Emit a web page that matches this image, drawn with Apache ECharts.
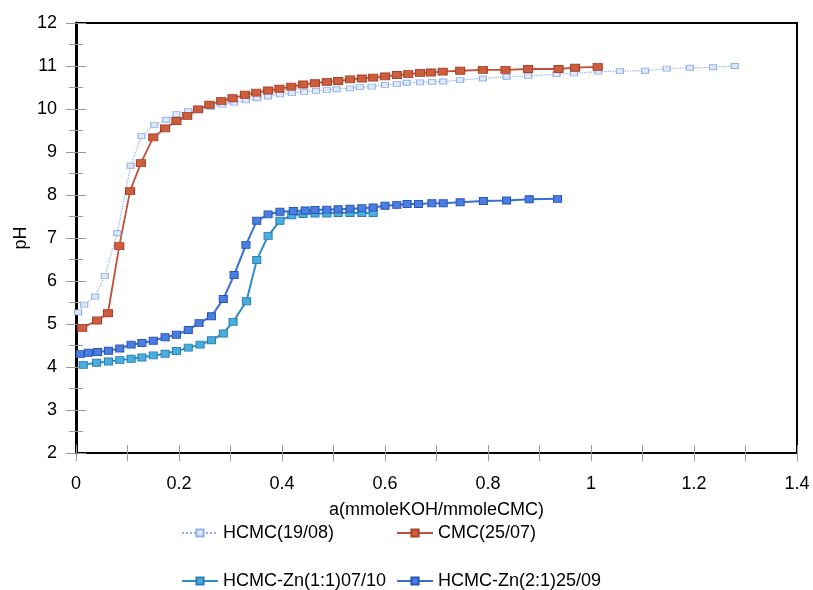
<!DOCTYPE html>
<html>
<head>
<meta charset="utf-8">
<script src="https://cdn.jsdelivr.net/npm/echarts@6/dist/echarts.min.js"></script>
<style>
  html, body { margin: 0; padding: 0; background: #fff; }
  #chart { width: 813px; height: 590px; }
</style>
</head>
<body>
<div id="chart"></div>
<script>
// Titration curves: pH against a (mmole KOH / mmole CMC)
const seriesNames = ['HCMC(19/08)', 'CMC(25/07)', 'HCMC-Zn(1:1)07/10', 'HCMC-Zn(2:1)25/09'];

const hcmcX = [0.004, 0.016, 0.037, 0.056, 0.080, 0.106, 0.127, 0.152, 0.175, 0.195, 0.218, 0.240, 0.262, 0.284,
  0.307, 0.330, 0.352, 0.373, 0.396, 0.419, 0.443, 0.466, 0.487, 0.506, 0.532, 0.551, 0.574, 0.600, 0.623, 0.642,
  0.668, 0.691, 0.713, 0.746, 0.790, 0.836, 0.878, 0.933, 0.967, 1.014, 1.056, 1.105, 1.147, 1.192, 1.237, 1.279];
const hcmcPH = [5.27, 5.45, 5.64, 6.12, 7.11, 8.68, 9.37, 9.63, 9.75, 9.88, 9.95, 10.01, 10.05, 10.10,
  10.15, 10.20, 10.25, 10.29, 10.34, 10.37, 10.40, 10.42, 10.44, 10.46, 10.48, 10.51, 10.52, 10.56, 10.58, 10.61,
  10.62, 10.63, 10.64, 10.67, 10.71, 10.75, 10.77, 10.81, 10.83, 10.87, 10.88, 10.89, 10.94, 10.96, 10.97, 11.00];

const cmcX = [0.012, 0.041, 0.062, 0.084, 0.105, 0.126, 0.150, 0.173, 0.195, 0.216, 0.237, 0.259, 0.282, 0.304,
  0.328, 0.350, 0.373, 0.395, 0.418, 0.441, 0.464, 0.487, 0.509, 0.532, 0.555, 0.577, 0.600, 0.623, 0.645, 0.668,
  0.689, 0.712, 0.746, 0.790, 0.834, 0.878, 0.937, 0.969, 1.013];
const cmcPH = [4.91, 5.08, 5.25, 6.81, 8.09, 8.74, 9.34, 9.55, 9.72, 9.84, 9.99, 10.10, 10.19, 10.25,
  10.33, 10.38, 10.43, 10.47, 10.52, 10.57, 10.60, 10.63, 10.65, 10.69, 10.71, 10.73, 10.76, 10.79, 10.81, 10.84,
  10.85, 10.87, 10.89, 10.91, 10.91, 10.93, 10.93, 10.96, 10.98];

const zn11X = [0.014, 0.040, 0.063, 0.085, 0.107, 0.128, 0.150, 0.173, 0.195, 0.218, 0.241, 0.263, 0.286, 0.305,
  0.331, 0.351, 0.373, 0.396, 0.419, 0.441, 0.464, 0.487, 0.509, 0.532, 0.555, 0.577];
const zn11PH = [4.05, 4.10, 4.13, 4.16, 4.19, 4.22, 4.27, 4.31, 4.37, 4.45, 4.52, 4.62, 4.78, 5.05,
  5.53, 6.49, 7.05, 7.40, 7.53, 7.56, 7.57, 7.57, 7.58, 7.58, 7.58, 7.58];

const zn21X = [0.008, 0.024, 0.042, 0.063, 0.085, 0.107, 0.128, 0.150, 0.173, 0.195, 0.218, 0.239, 0.263, 0.286,
  0.307, 0.330, 0.351, 0.373, 0.396, 0.422, 0.445, 0.464, 0.487, 0.509, 0.532, 0.555, 0.577, 0.600, 0.623, 0.643,
  0.665, 0.691, 0.713, 0.746, 0.791, 0.836, 0.880, 0.935];
const zn21PH = [4.30, 4.33, 4.35, 4.38, 4.43, 4.52, 4.56, 4.61, 4.69, 4.75, 4.86, 5.02, 5.18, 5.58,
  6.14, 6.84, 7.40, 7.55, 7.61, 7.63, 7.64, 7.65, 7.66, 7.67, 7.68, 7.69, 7.71, 7.75, 7.77, 7.79,
  7.79, 7.81, 7.81, 7.83, 7.86, 7.87, 7.90, 7.91];

const xTicks = { min: 0, max: 1.4, interval: 0.2 };
const yTicks = { min: 2, max: 12, interval: 1 };

const pairs = (xs, ys) => xs.map((x, i) => [x, ys[i]]);
const FONT = '"Liberation Sans", Arial, sans-serif';
const tickGray = '#9a9a9a';

const chart = echarts.init(document.getElementById('chart'), null, { renderer: 'canvas' });

// Ticks cross each axis: one axis draws them outside, a twin axis draws them inside.
// The twin (label-free) axis carries the axis title so it can sit close to the labels.
function xAxisDef(inside, main) {
  return {
    type: 'value', position: 'bottom', min: xTicks.min, max: xTicks.max, interval: xTicks.interval,
    axisLine: { show: main, lineStyle: { color: '#000', width: 2 } },
    axisTick: { show: true, inside: inside, length: 8, lineStyle: { color: tickGray, width: 1 } },
    minorTick: { show: true, splitNumber: 2, length: 8, lineStyle: { color: tickGray, width: 1 } },
    axisLabel: { show: main, fontSize: 18, color: '#000', fontFamily: FONT, margin: 22 },
    splitLine: { show: false },
    name: main ? 'a(mmoleKOH/mmoleCMC)' : '',
    nameLocation: 'middle', nameGap: 48,
    nameTextStyle: { fontSize: 18, color: '#000', fontFamily: FONT }
  };
}
function yAxisDef(inside, main) {
  return {
    type: 'value', position: 'left', min: yTicks.min, max: yTicks.max, interval: yTicks.interval,
    axisLine: { show: main, lineStyle: { color: '#000', width: 3 } },
    axisTick: { show: true, inside: inside, length: 10, lineStyle: { color: tickGray, width: 1 } },
    minorTick: { show: true, splitNumber: 2, length: 7, lineStyle: { color: tickGray, width: 1 } },
    axisLabel: { show: main, fontSize: 18, color: '#000', fontFamily: FONT, margin: 19 },
    splitLine: { show: false },
    name: main ? '' : 'pH',
    nameLocation: 'middle', nameGap: 46, nameRotate: 90,
    nameTextStyle: { fontSize: 18, color: '#000', fontFamily: FONT }
  };
}

function legendAt(name, left, top) {
  return {
    data: [name], left: left, top: top, orient: 'horizontal',
    itemWidth: 36, itemHeight: 9, itemGap: 5, padding: 0,
    textStyle: { fontSize: 18, color: '#000', fontFamily: FONT }
  };
}

const option = {
  animation: false,
  backgroundColor: '#fff',
  grid: { left: 76, right: 16, top: 23, bottom: 137, show: true, borderColor: '#000', borderWidth: 2, backgroundColor: 'transparent' },
  xAxis: [xAxisDef(false, true), xAxisDef(true, false)],
  yAxis: [yAxisDef(false, true), yAxisDef(true, false)],
  legend: [
    legendAt(seriesNames[0], 181, 524),
    legendAt(seriesNames[1], 396, 524),
    legendAt(seriesNames[2], 181, 572),
    legendAt(seriesNames[3], 396, 572)
  ],
  series: [
    {
      name: seriesNames[0], type: 'line', data: pairs(hcmcX, hcmcPH),
      symbol: 'rect', symbolSize: [7, 5],
      lineStyle: { color: '#8fb0e8', width: 1.2, type: 'dotted' },
      itemStyle: { color: '#e0e9f9', borderColor: '#8fb0e8', borderWidth: 1 }
    },
    {
      name: seriesNames[1], type: 'line', data: pairs(cmcX, cmcPH),
      symbol: 'rect', symbolSize: [9, 7],
      lineStyle: { color: '#c0503a', width: 1.8 },
      itemStyle: { color: '#cc5e3e', borderColor: '#a8402a', borderWidth: 1 }
    },
    {
      name: seriesNames[2], type: 'line', data: pairs(zn11X, zn11PH),
      symbol: 'rect', symbolSize: [8, 7],
      lineStyle: { color: '#2f8cc4', width: 2 },
      itemStyle: { color: '#4aaedc', borderColor: '#2a7fb6', borderWidth: 1 }
    },
    {
      name: seriesNames[3], type: 'line', data: pairs(zn21X, zn21PH),
      symbol: 'rect', symbolSize: [8, 7],
      lineStyle: { color: '#3a6fd2', width: 2 },
      itemStyle: { color: '#4a7ee0', borderColor: '#2a55b8', borderWidth: 1 }
    }
  ]
};

chart.setOption(option);
</script>
</body>
</html>
